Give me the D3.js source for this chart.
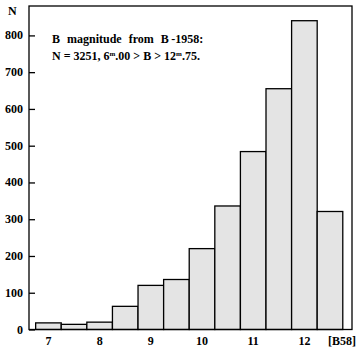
<!DOCTYPE html>
<html>
<head>
<meta charset="utf-8">
<script src="https://cdn.jsdelivr.net/npm/d3@7"></script>
<style>
  body { margin: 0; background: #fff; }
  text { font-family: "Liberation Serif", "DejaVu Serif", serif; font-weight: bold; }
</style>
</head>
<body>
<svg id="hist" width="358" height="351"></svg>
<script>
const binCenters = [7, 7.5, 8, 8.5, 9, 9.5, 10, 10.5, 11, 11.5, 12, 12.5];
const counts = [18, 14, 20, 63, 120, 136, 220, 336, 484, 655, 840, 321];
const xTicks = [7, 8, 9, 10, 11, 12];
const yTicks = [0, 100, 200, 300, 400, 500, 600, 700, 800];
const binWidth = 0.5;

const svg = d3.select("#hist"),
      plotLeft = 29, plotRight = 352, plotTop = 6, plotBottom = 329.5;

const x = d3.scaleLinear().domain([6.62, 12.93]).range([plotLeft, plotRight]);
const y = d3.scaleLinear().domain([0, 880]).range([plotBottom, plotTop]);

// bars
svg.selectAll(".bar")
  .data(binCenters)
  .enter()
  .append("rect")
  .attr("class", "bar")
  .attr("x", d => x(d - binWidth / 2))
  .attr("y", (d, i) => y(counts[i]))
  .attr("width", d => x(d + binWidth / 2) - x(d - binWidth / 2))
  .attr("height", (d, i) => y(0) - y(counts[i]))
  .attr("fill", "#e4e4e4")
  .attr("stroke", "#000")
  .attr("stroke-width", 1.3);

// frame
svg.append("rect")
  .attr("x", plotLeft).attr("y", plotTop)
  .attr("width", plotRight - plotLeft).attr("height", plotBottom - plotTop)
  .attr("fill", "none").attr("stroke", "#000").attr("stroke-width", 1.3);

// y axis, ticks inward
const yAxis = svg.append("g")
  .attr("transform", `translate(${plotLeft},0)`)
  .call(d3.axisRight(y).tickValues(yTicks).tickSize(6).tickFormat(""));
yAxis.select(".domain").remove();
yAxis.selectAll("line").attr("stroke-width", 1.3);

svg.selectAll(".ylab")
  .data(yTicks)
  .enter()
  .append("text")
  .attr("class", "ylab")
  .attr("x", 23)
  .attr("y", d => y(d) + 4)
  .attr("text-anchor", "end")
  .attr("font-size", 12)
  .text(d => d);

// x tick labels
svg.selectAll(".xlab")
  .data(xTicks)
  .enter()
  .append("text")
  .attr("class", "xlab")
  .attr("x", d => x(d))
  .attr("y", 345)
  .attr("text-anchor", "middle")
  .attr("font-size", 12)
  .text(d => d);

// axis labels
svg.append("text").attr("x", 8).attr("y", 15).attr("font-size", 12).text("N");
svg.append("text").attr("x", 328).attr("y", 345).attr("font-size", 12).text("[B58]");

// title
svg.append("text")
  .attr("x", 52).attr("y", 43)
  .attr("font-size", 12)
  .attr("word-spacing", 4)
  .text("B magnitude from B\u2009-1958:");

const t2 = svg.append("text")
  .attr("x", 52).attr("y", 60)
  .attr("font-size", 12);
t2.append("tspan").text("N = 3251, 6");
t2.append("tspan").attr("dy", -4).attr("font-size", 7).text("m");
t2.append("tspan").attr("dy", 4).text(".00 > B > 12");
t2.append("tspan").attr("dy", -4).attr("font-size", 7).text("m");
t2.append("tspan").attr("dy", 4).text(".75.");
</script>
</body>
</html>
